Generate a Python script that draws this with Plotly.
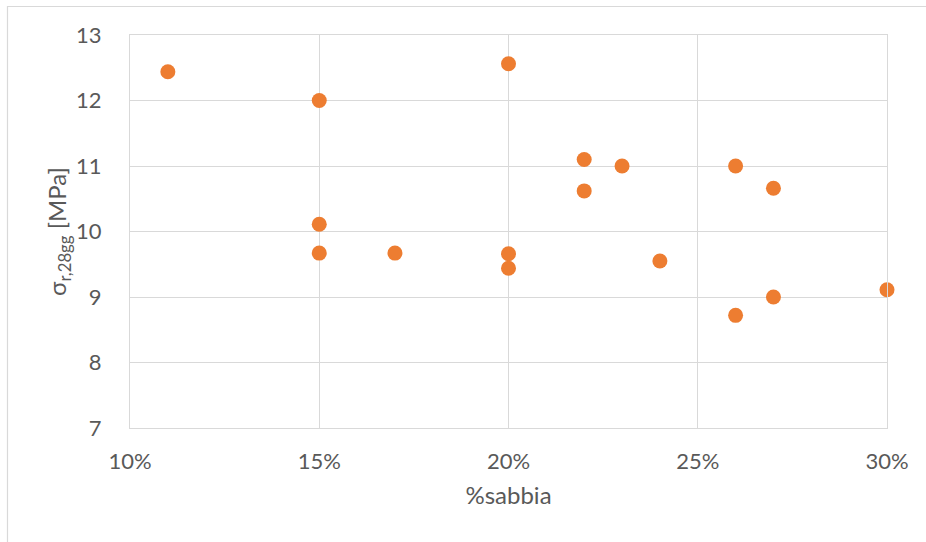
import plotly.graph_objects as go

# sand fraction and 28-day strength
sabbia = [0.11, 0.15, 0.15, 0.15, 0.17, 0.20, 0.20, 0.20, 0.22, 0.22,
          0.23, 0.24, 0.26, 0.26, 0.27, 0.27, 0.30]
sigma_r28 = [12.44, 12.00, 10.11, 9.67, 9.67, 12.56, 9.66, 9.44, 11.10, 10.62,
             11.00, 9.55, 11.00, 8.72, 10.66, 9.00, 9.11]

x_ticks = [0.10, 0.15, 0.20, 0.25, 0.30]
y_ticks = [7, 8, 9, 10, 11, 12, 13]

W, H = 926, 542
L, R, T, B = 130, 39, 35, 114
pw, ph = W - L - R, H - T - B

text_col = "#595959"
grid_col = "#d9d9d9"
font_family = "Lato, Open Sans, sans-serif"

fig = go.Figure()
fig.add_trace(go.Scatter(
    x=sabbia, y=sigma_r28, mode="markers",
    marker=dict(color="#ED7D31", size=15, line=dict(width=0)),
    cliponaxis=False, showlegend=False,
))

# outer chart frame
fig.add_shape(type="rect", xref="paper", yref="paper",
              x0=(7.5 - L) / pw, x1=(W + 20 - L) / pw,
              y0=(H - B - (H + 20)) / ph, y1=(H - B - 6.5) / ph,
              line=dict(color=grid_col, width=1.2), fillcolor="rgba(0,0,0,0)",
              layer="below")

fig.update_layout(
    width=W, height=H,
    margin=dict(l=L, r=R, t=T, b=B),
    paper_bgcolor="white", plot_bgcolor="white",
    font=dict(family=font_family, color=text_col, size=22),
    xaxis=dict(
        range=[0.10, 0.30], tickvals=x_ticks, tickformat=".0%",
        showgrid=True, gridcolor=grid_col, gridwidth=1.3,
        showline=True, mirror=True, linecolor=grid_col, linewidth=1.3,
        zeroline=False, ticks="", ticklabelstandoff=13,
        title=dict(text="%sabbia", standoff=14, font=dict(size=24)),
        tickfont=dict(size=22),
    ),
    yaxis=dict(
        range=[7, 13], tickvals=y_ticks,
        showgrid=True, gridcolor=grid_col, gridwidth=1.3,
        showline=True, mirror=True, linecolor=grid_col, linewidth=1.3,
        zeroline=False, ticks="", ticklabelstandoff=23,
        title=dict(text="σ<sub>r,28gg</sub> [MPa]", standoff=2, font=dict(size=24)),
        tickfont=dict(size=22),
    ),
)

fig.write_html("out.html")
